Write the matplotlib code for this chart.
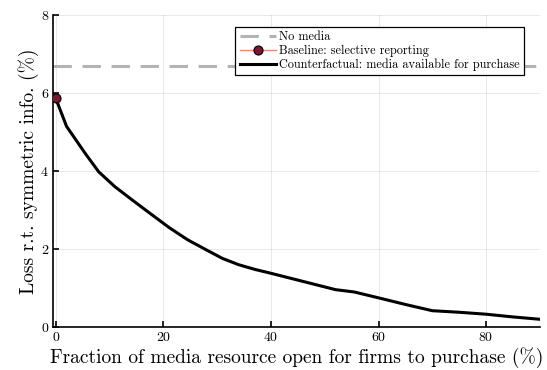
import matplotlib
matplotlib.use("Agg")
import matplotlib.pyplot as plt

plt.rcParams["font.family"] = "cmr10"
plt.rcParams["axes.formatter.use_mathtext"] = True
plt.rcParams["mathtext.fontset"] = "cm"

# share of media resource open for purchase (%) and loss (%)
share = [0, 2, 5.5, 8, 11, 14.5, 17.5, 21, 24.5, 28, 31, 34, 37, 40, 44, 48,
         52, 55.5, 60, 65, 70, 75, 80, 85, 90]
loss_counterfactual = [5.87, 5.15, 4.45, 3.98, 3.6, 3.23, 2.92, 2.56, 2.24, 1.98,
                       1.76, 1.6, 1.48, 1.38, 1.24, 1.1, 0.96, 0.9, 0.75, 0.58,
                       0.42, 0.38, 0.33, 0.26, 0.2]
loss_no_media = 6.7
baseline_share = [0]
baseline_loss = [5.87]

xticks = [0, 20, 40, 60, 80]
yticks = [0, 2, 4, 6, 8]

fig = plt.figure(figsize=(5.47, 3.70), dpi=100)
ax = fig.add_axes([0.097, 0.116, 0.890, 0.843])

ax.axhline(loss_no_media, color="#b3b3b3", lw=2.2, dashes=(6, 3.5), label="No media")
ax.plot(baseline_share, baseline_loss, color="#f08a6c", lw=1, marker="o", ms=6.5,
        mfc="#7a1733", mec="black", mew=0.8, label="Baseline: selective reporting",
        zorder=4)
ax.plot(share, loss_counterfactual, color="black", lw=2.2,
        label="Counterfactual: media available for purchase", zorder=3)

ax.set_xlim(-0.5, 90)
ax.set_ylim(0, 8)
ax.set_xticks(xticks)
ax.set_yticks(yticks)
ax.grid(True, color="black", alpha=0.1, lw=0.6)
ax.set_axisbelow(True)
for side in ["top", "right"]:
    ax.spines[side].set_visible(False)
for side in ["left", "bottom"]:
    ax.spines[side].set_linewidth(1.2)
ax.tick_params(direction="in", length=4, width=1.2, labelsize=10, pad=3)

ax.set_xlabel("Fraction of media resource open for firms to purchase (%)", fontsize=14,
              labelpad=2)
ax.set_ylabel("Loss r.t. symmetric info. (%)", fontsize=14, labelpad=1)

leg = ax.legend(loc="upper right", bbox_to_anchor=(0.968, 0.962), fontsize=8.8,
                fancybox=False, framealpha=1, edgecolor="black", borderpad=0.35,
                labelspacing=0.12, handlelength=3.0, handletextpad=0.25,
                borderaxespad=0)
leg.get_frame().set_linewidth(0.9)

fig.savefig("out.png", dpi=100)
